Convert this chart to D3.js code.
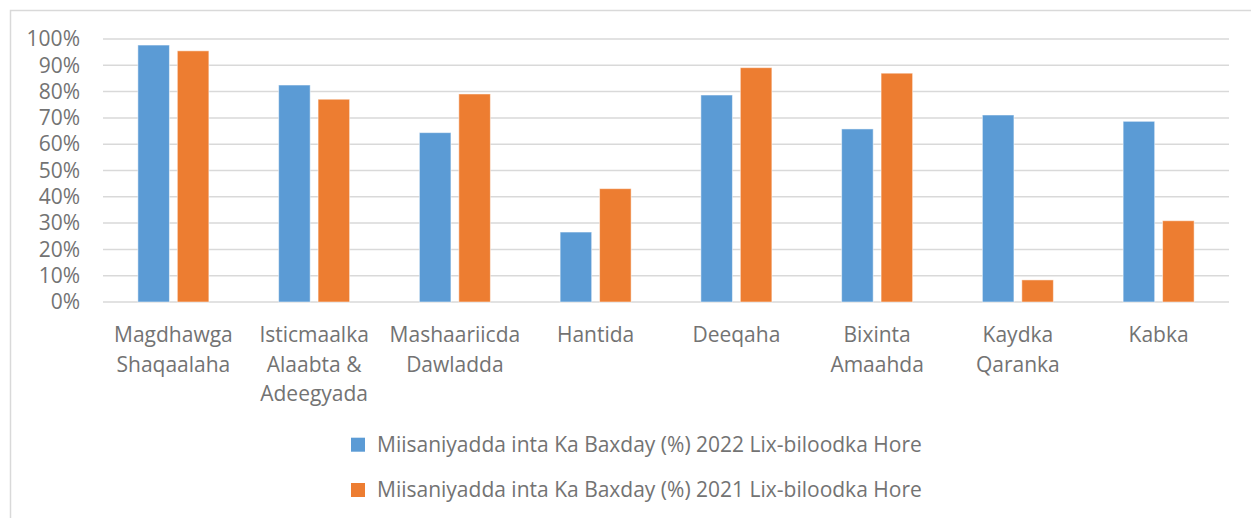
<!DOCTYPE html>
<html>
<head>
<meta charset="utf-8">
<script src="https://cdn.jsdelivr.net/npm/d3@7"></script>
<style>
  body { margin: 0; background: #fff; }
  svg text { font-family: "Open Sans", "Noto Sans", sans-serif; fill: #737373; }
</style>
</head>
<body>
<svg id="chart" width="1251" height="518"></svg>
<script>
var categories = [
  ["Magdhawga", "Shaqaalaha"],
  ["Isticmaalka", "Alaabta &", "Adeegyada"],
  ["Mashaariicda", "Dawladda"],
  ["Hantida"],
  ["Deeqaha"],
  ["Bixinta", "Amaahda"],
  ["Kaydka", "Qaranka"],
  ["Kabka"]
];
var series2022 = [97.7, 82.5, 64.4, 26.6, 78.7, 65.8, 71.1, 68.7];
var series2021 = [95.5, 77.1, 79.1, 43.1, 89.1, 87.0, 8.4, 30.9];
var seriesNames = [
  "Miisaniyadda inta Ka Baxday (%) 2022 Lix-biloodka Hore",
  "Miisaniyadda inta Ka Baxday (%) 2021 Lix-biloodka Hore"
];
var seriesColors = ["#5b9bd5", "#ed7d31"];
var yTicks = [0, 10, 20, 30, 40, 50, 60, 70, 80, 90, 100];

var margin = {top: 39, left: 103, right: 22, bottom: 216};
var width = 1251 - margin.left - margin.right;
var height = 518 - margin.top - margin.bottom;
var fontSize = "21px";

var svg = d3.select("#chart");

// outer frame (only top and left edges are visible in the picture)
svg.append("path")
    .attr("d", "M10.5,518 V10.5 H1251")
    .attr("fill", "none")
    .attr("stroke", "#d9d9d9")
    .attr("stroke-width", 1.5);

var g = svg.append("g")
    .attr("transform", "translate(" + margin.left + "," + margin.top + ")");

var x0 = d3.scaleBand()
    .domain(d3.range(categories.length))
    .range([0, width]);

var x1 = d3.scaleBand()
    .domain([0, 1])
    .range([x0.bandwidth() / 2 - 35.5, x0.bandwidth() / 2 + 35.5])
    .paddingInner(0.2);

var y = d3.scaleLinear()
    .domain([0, 100])
    .range([height, 0]);

// gridlines
g.selectAll(".grid")
    .data(yTicks)
  .enter().append("line")
    .attr("class", "grid")
    .attr("x1", 0)
    .attr("x2", width)
    .attr("y1", function(d) { return y(d); })
    .attr("y2", function(d) { return y(d); })
    .attr("stroke", "#d9d9d9")
    .attr("stroke-width", 1.5);

// y axis labels
var yAxis = d3.axisLeft(y)
    .tickValues(yTicks)
    .tickSize(0)
    .tickPadding(23)
    .tickFormat(function(d) { return d + "%"; });
var ya = g.append("g").call(yAxis);
ya.select(".domain").remove();
ya.selectAll("text")
    .style("font-size", fontSize)
    .attr("fill", "#737373");

// bars
var data = categories.map(function(c, i) { return [series2022[i], series2021[i]]; });
var groups = g.selectAll(".cat")
    .data(data)
  .enter().append("g")
    .attr("class", "cat")
    .attr("transform", function(d, i) { return "translate(" + x0(i) + ",0)"; });

groups.selectAll("rect")
    .data(function(d) { return d; })
  .enter().append("rect")
    .attr("x", function(d, j) { return x1(j); })
    .attr("y", function(d) { return y(d); })
    .attr("width", x1.bandwidth())
    .attr("height", function(d) { return height - y(d); })
    .attr("fill", function(d, j) { return seriesColors[j]; })
    .attr("stroke", "#fff")
    .attr("stroke-opacity", 0.5)
    .attr("stroke-width", 1);

// category labels
var labels = g.selectAll(".xlab")
    .data(categories)
  .enter().append("text")
    .attr("class", "xlab")
    .attr("text-anchor", "middle")
    .attr("transform", function(d, i) {
      return "translate(" + (x0(i) + x0.bandwidth() / 2) + "," + (height + 40) + ")";
    })
    .style("font-size", fontSize);
labels.selectAll("tspan")
    .data(function(d) { return d; })
  .enter().append("tspan")
    .attr("x", 0)
    .attr("dy", function(d, k) { return k === 0 ? 0 : 29.5; })
    .text(function(d) { return d; });

// legend
var legend = svg.selectAll(".legend")
    .data(seriesNames)
  .enter().append("g")
    .attr("class", "legend")
    .attr("transform", function(d, i) { return "translate(351," + (444.7 + i * 45.3) + ")"; });
legend.append("rect")
    .attr("x", 0)
    .attr("y", -7)
    .attr("width", 14)
    .attr("height", 14)
    .attr("fill", function(d, i) { return seriesColors[i]; });
legend.append("text")
    .attr("x", 26)
    .attr("y", 0)
    .attr("dy", "0.35em")
    .style("font-size", fontSize)
    .text(function(d) { return d; });
</script>
</body>
</html>
